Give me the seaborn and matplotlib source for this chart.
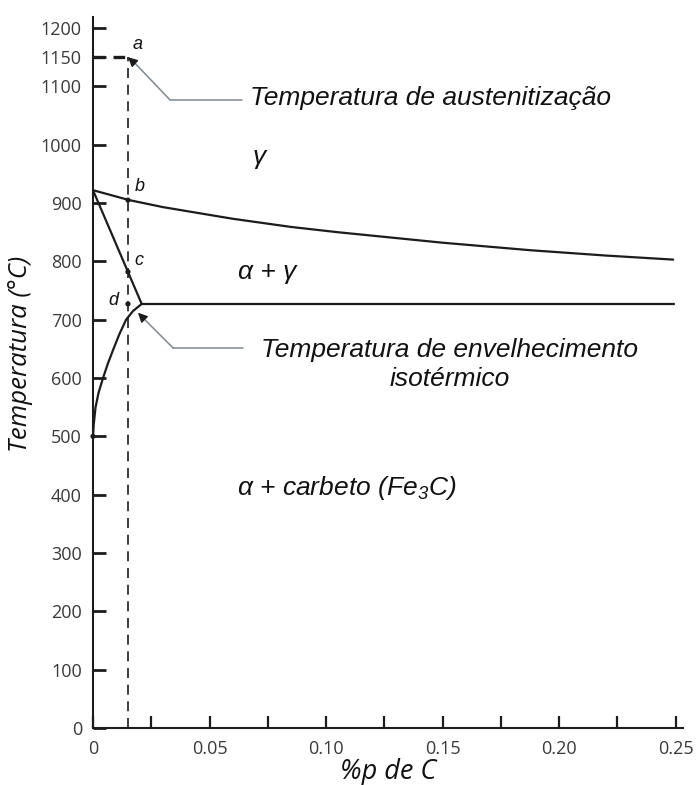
import matplotlib
matplotlib.use("Agg")
import matplotlib.pyplot as plt
import seaborn as sns
import numpy as np
import pandas as pd

# ---------------- data ----------------
# gamma / (alpha+gamma) boundary
a3_x = [0.0, 0.0156, 0.030, 0.042, 0.060, 0.085, 0.105, 0.125, 0.150, 0.188, 0.220, 0.249]
a3_T = [922, 905, 893, 885, 873, 859, 850, 842, 832, 819, 810, 803]
# alpha / (alpha+gamma) boundary
alpha_x = [0.0, 0.0209]
alpha_T = [922, 727]
# eutectoid isotherm
eut_x = [0.0209, 0.2495]
eut_T = [727, 727]
# alpha / (alpha + Fe3C) solvus
solv_x = [0.0, 0.0003, 0.0011, 0.0024, 0.0043, 0.0064, 0.0088, 0.0113, 0.0142, 0.0172, 0.0209]
solv_T = [500, 520, 550, 575, 600, 625, 650, 675, 700, 715, 727]
# alloy composition and temperatures
alloy_c = 0.015
aust_T = 1150
pt_x = [0.015, 0.015, 0.015]
pt_T = [905, 782, 727]
origin_x = [0.0]
origin_T = [500]

y_ticks = [0, 100, 200, 300, 400, 500, 600, 700, 800, 900, 1000, 1100, 1150, 1200]
x_major = [0, 0.05, 0.10, 0.15, 0.20, 0.25]
x_major_labels = ["0", "0.05", "0.10", "0.15", "0.20", "0.25"]
x_minor = [0.025, 0.075, 0.125, 0.175, 0.225]

# ---------------- style ----------------
sns.set_theme(style="ticks")
plt.rcParams["font.family"] = ["Liberation Sans", "DejaVu Sans"]
plt.rcParams["mathtext.fontset"] = "custom"
plt.rcParams["mathtext.it"] = "Liberation Sans:italic"
plt.rcParams["mathtext.rm"] = "Liberation Sans:italic"

LINE = "#1c1c1c"
GRAY = "#7d8a90"
TXT = "#111111"

fig = plt.figure(figsize=(6.96, 7.85), dpi=100)
ax = fig.add_axes([93 / 696, 1 - 728 / 785, 590 / 696, (728 - 17) / 785])

def line(x, T, **kw):
    df = pd.DataFrame({"x": x, "T": T})
    sns.lineplot(data=df, x="x", y="T", sort=False, estimator=None, ax=ax, **kw)

line(a3_x, a3_T, color=LINE, lw=1.6)
line(alpha_x, alpha_T, color=LINE, lw=1.6)
line(eut_x, eut_T, color=LINE, lw=1.6)
line(solv_x, solv_T, color=LINE, lw=1.6)

# dashed alloy line
line([alloy_c, alloy_c], [0, aust_T], color=LINE, lw=1.2, linestyle=(0, (6, 4)))
line([0, alloy_c], [aust_T, aust_T], color=LINE, lw=2.4, linestyle=(0, (3.5, 2.5)))

# points
sns.scatterplot(x=pt_x, y=pt_T, ax=ax, color=LINE, s=14, edgecolor="none", zorder=5)
sns.scatterplot(x=origin_x, y=origin_T, ax=ax, color=LINE, s=14, edgecolor="none",
                zorder=5, clip_on=False)

# point letters
lfs = 13
ax.text(0.0193, 1171, "a", fontsize=lfs, style="italic", color=TXT, ha="center", va="center")
ax.text(0.0200, 929, "b", fontsize=lfs, style="italic", color=TXT, ha="center", va="center")
ax.text(0.0197, 802, "c", fontsize=lfs, style="italic", color=TXT, ha="center", va="center")
ax.text(0.0088, 733, "d", fontsize=lfs, style="italic", color=TXT, ha="center", va="center")

# leader lines
ax.plot([0.0330, 0.0640], [1077, 1077], color=GRAY, lw=1.1)
ax.plot([0.0330, 0.0165], [1077, 1146], color=GRAY, lw=1.1)
ax.annotate("", xy=(alloy_c, aust_T), xytext=(0.0175, 1141),
            arrowprops=dict(arrowstyle="-|>", color=LINE, lw=1.0, mutation_scale=14,
                            shrinkA=0, shrinkB=0))
ax.plot([0.0345, 0.0645], [651, 651], color=GRAY, lw=1.1)
ax.plot([0.0345, 0.0205], [651, 707], color=GRAY, lw=1.1)
ax.annotate("", xy=(0.0193, 712), xytext=(0.0215, 703),
            arrowprops=dict(arrowstyle="-|>", color=LINE, lw=1.0, mutation_scale=14,
                            shrinkA=0, shrinkB=0))

# annotations
bfs = 19
ax.text(0.0672, 1080, "Temperatura de austenitização", fontsize=bfs, style="italic",
        color=TXT, ha="left", va="center")
ax.text(0.1532, 623, "Temperatura de envelhecimento\nisotérmico", fontsize=bfs,
        style="italic", color=TXT, ha="center", va="center", multialignment="center",
        linespacing=1.25)
ax.text(0.0712, 979, "γ", fontsize=bfs, style="italic", color=TXT, ha="center", va="center")
ax.text(0.0747, 782, "α + γ", fontsize=bfs, style="italic", color=TXT, ha="center", va="center")
ax.text(0.1090, 411, r"α + carbeto (Fe$_{\mathit{3}}$C)", fontsize=bfs, style="italic",
        color=TXT, ha="center", va="center")

# axes
ax.set_xlim(0, (683 - 93) / 2330)
ax.set_ylim(0, (728 - 17) / 0.5833)
ax.set_xticks(x_major)
ax.set_xticklabels(x_major_labels)
ax.set_xticks(x_minor, minor=True)
ax.set_yticks(y_ticks)
ax.set_yticklabels([str(t) for t in y_ticks])

for s in ["top", "right"]:
    ax.spines[s].set_visible(False)
for s in ["left", "bottom"]:
    ax.spines[s].set_color(LINE)
    ax.spines[s].set_linewidth(1.5)

ax.tick_params(axis="y", which="major", direction="in", length=9.5, width=2.0, color=LINE,
               pad=8, labelsize=13, labelcolor="#3a3a3a")
ax.tick_params(axis="x", which="both", direction="in", length=9, width=1.6, color=LINE,
               pad=9, labelsize=13, labelcolor="#3a3a3a")
for lab in ax.get_xticklabels() + ax.get_yticklabels():
    lab.set_family(["Open Sans", "DejaVu Sans"])

ax.set_xlabel("%p de C", fontsize=19.5, style="italic", color=TXT,
              family=["Open Sans", "DejaVu Sans"], labelpad=0)
ax.set_ylabel("Temperatura (°C)", fontsize=18.5, style="italic", color=TXT,
              family=["Open Sans", "DejaVu Sans"])
ax.yaxis.set_label_coords(-0.102, 0.526)
ax.grid(False)
ax.set_facecolor("white")

fig.savefig("out.png", dpi=100, facecolor="white")
